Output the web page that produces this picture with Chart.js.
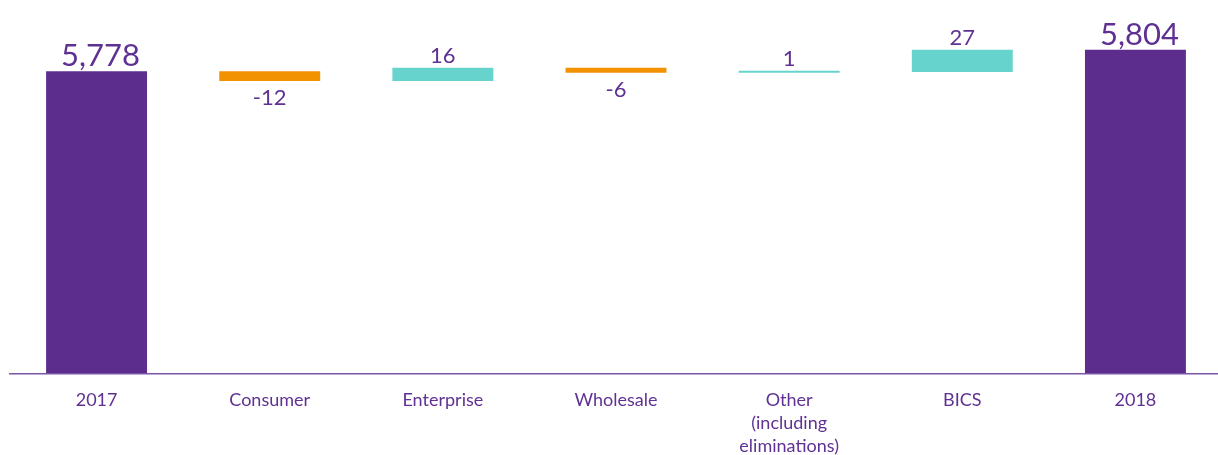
<!DOCTYPE html>
<html>
<head>
<meta charset="utf-8">
<script src="https://cdn.jsdelivr.net/npm/chart.js@4.4.1/dist/chart.umd.min.js"></script>
<style>
  html, body { margin: 0; padding: 0; background: #fff; overflow: hidden; }
  #wrap { width: 1222px; height: 455px; }
</style>
</head>
<body>
<div id="wrap"><canvas id="chartBridge" width="1222" height="455"></canvas></div>
<script>
'use strict';

// categories along the bottom
const categories = ['2017', 'Consumer', 'Enterprise', 'Wholesale', ['Other', '(including', 'eliminations)'], 'BICS', '2018'];
// first and last are totals, the rest are changes
const steps = [5778, -12, 16, -6, 1, 27, 5804];
const isTotal = [true, false, false, false, false, false, true];
const valueLabels = ['5,778', '-12', '16', '-6', '1', '27', '5,804'];
const axisMin = 5412;
const axisMax = 5864;

const PURPLE = '#5c2d8c';
const ORANGE = '#f39200';
const TEAL = '#66d4cc';
const TEXT = '#5f3192';

// build floating bars from the running total
let running = 0;
const bars = steps.map((v, i) => {
  if (isTotal[i]) {
    running = v;
    return [axisMin, v];
  }
  const from = running;
  running += v;
  return [from, running];
});
const colors = steps.map((v, i) => isTotal[i] ? PURPLE : (v < 0 ? ORANGE : TEAL));

// draws the value above (or below for drops) each bar
const valueLabelPlugin = {
  id: 'valueLabels',
  afterDatasetsDraw(chart) {
    const ctx = chart.ctx;
    const meta = chart.getDatasetMeta(0);
    ctx.save();
    ctx.fillStyle = TEXT;
    ctx.textAlign = 'center';
    meta.data.forEach((bar, i) => {
      const big = isTotal[i];
      ctx.font = (big ? '31px' : '22px') + ' Lato, "Open Sans", sans-serif';
      const top = Math.min(bar.y, bar.base);
      const bottom = Math.max(bar.y, bar.base);
      if (steps[i] < 0) {
        ctx.textBaseline = 'top';
        ctx.fillText(valueLabels[i], bar.x, bottom + 6);
      } else {
        ctx.textBaseline = 'alphabetic';
        ctx.fillText(valueLabels[i], bar.x + (big ? 4 : 0), top - 5);
      }
    });
    ctx.restore();
  }
};

new Chart(document.getElementById('chartBridge'), {
  type: 'bar',
  data: {
    labels: categories,
    datasets: [{
      data: bars,
      backgroundColor: colors,
      borderWidth: 0,
      minBarLength: 2,
      barPercentage: 1,
      categoryPercentage: 0.583
    }]
  },
  options: {
    responsive: false,
    animation: false,
    layout: { padding: { left: 10, right: 0, top: 0, bottom: 0 } },
    plugins: {
      legend: { display: false },
      tooltip: { enabled: false }
    },
    scales: {
      x: {
        grid: { display: false, drawTicks: false },
        border: { display: true, color: '#7a55a8', width: 1.5, z: 1 },
        ticks: {
          color: TEXT,
          padding: 14,
          maxRotation: 0,
          autoSkip: false,
          font: { family: 'Lato, "Open Sans", sans-serif', size: 18, lineHeight: 1.3 }
        },
        afterFit(scale) { scale.height = 81; }
      },
      y: {
        display: false,
        min: axisMin,
        max: axisMax
      }
    }
  },
  plugins: [valueLabelPlugin]
});
</script>
</body>
</html>
